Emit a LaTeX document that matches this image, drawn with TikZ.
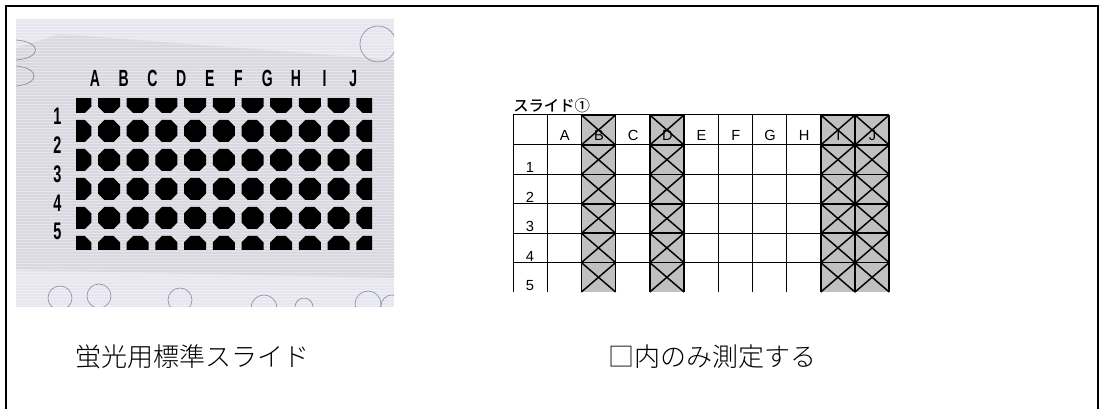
\documentclass[tikz,border=0pt]{standalone}
\usepackage{fontspec}
\setmainfont{Liberation Sans}
\newfontfamily\jpfont{Noto Sans CJK JP Medium}
\newfontfamily\jplight{Noto Sans CJK JP Light}
\definecolor{photobg}{HTML}{E6E6EF}
\definecolor{slidegray}{HTML}{D8D8E0}
\definecolor{bubble}{HTML}{8C8CA6}
\definecolor{cellgray}{HTML}{C0C0C0}
\tikzset{
  frameline/.style={line width=1.1pt},
  photolab/.style={font=\bfseries\fontsize{17.5}{18}\selectfont, xscale=0.6, inner sep=0pt},
  photonum/.style={font=\bfseries\fontsize{18}{19}\selectfont, xscale=0.6, inner sep=0pt},
  tablab/.style={font=\fontsize{11}{12}\selectfont, inner sep=0pt, anchor=base},
  gridline/.style={line width=0.75pt},
  grayedge/.style={line width=1.3pt},
  crossline/.style={line width=1.1pt},
  bubbleline/.style={draw=bubble, line width=0.5pt},
  scanline/.style={draw=white, opacity=0.35, line width=0.6pt},
  caption/.style={font=\jplight\fontsize{19.5}{21}\selectfont, inner sep=0pt, anchor=west}
}
\begin{document}
\begin{tikzpicture}[x=0.75pt,y=-0.75pt]
\useasboundingbox (0,0) rectangle (1101,409);
\fill[white] (0,0) rectangle (1101,409);
% outer frame (open at the bottom of the picture)
\draw[frameline] (6,415) -- (6,6) -- (1098,6) -- (1098,415);

% ---------- photo of the slide ----------
\begin{scope}
  \clip (16,19) rectangle (394,307);
  \fill[photobg] (16,19) rectangle (394,307);
  \fill[slidegray] (16,48) -- (60,34) -- (394,60) -- (394,278) -- (16,270) -- cycle;
  \foreach \y in {20,23,...,306} { \draw[scanline] (16,\y) -- (394,\y); }
  \draw[bubbleline] (16,40) .. controls (42,42) and (42,58) .. (16,60);
  \draw[bubbleline] (16,66) .. controls (40,68) and (40,84) .. (16,86);
  \draw[bubbleline] (378,44) circle (18);
  \draw[bubbleline] (60,298) circle (12);
  \draw[bubbleline] (99,296) circle (12);
  \draw[bubbleline] (180,300) circle (12);
  \draw[bubbleline] (264,308) circle (13);
  \draw[bubbleline] (304,307) circle (9);
  \draw[bubbleline] (368,304) circle (13);
  \draw[bubbleline] (392,306) circle (11);
\end{scope}
\begin{scope}
  \clip (76,99) rectangle (372,250);
  \foreach \i in {0,...,10} {
    \foreach \j in {0,...,5} {
      \fill[black] ({80.3+28.7*\i},{102+29*\j}) ++(11,-4.6) -- ++(0,9.2) -- ++(-6.4,6.4)
        -- ++(-9.2,0) -- ++(-6.4,-6.4) -- ++(0,-9.2) -- ++(6.4,-6.4) -- ++(9.2,0) -- cycle;
    }
  }
\end{scope}
\foreach \l [count=\k from 0] in {A,B,C,D,E,F,G,H,I,J} {
  \node[photolab] (p\l) at ({95+28.7*\k},78.5) {\l};
}
\foreach \n [count=\k from 0] in {1,...,5} {
  \node[photonum] (pn\n) at (57.5,{116.5+28.8*\k}) {\n};
}

% ---------- measurement table ----------
\node[font=\jpfont\fontsize{11.5}{12}\selectfont, inner sep=0pt, anchor=base west] (title) at (513,112) {スライド①};
% gray cells
\foreach \c in {2,4,9,10} {
  \fill[cellgray] ({513+34.2*\c},115) rectangle ({513+34.2*(\c+1)},292);
}
% grid
\foreach \c in {0,...,11} {
  \draw[gridline] ({513+34.2*\c},115) -- ({513+34.2*\c},292);
}
\foreach \y in {115,145,174.4,203.8,233.2,262.6} {
  \draw[gridline] (513,\y) -- (889.2,\y);
}
% crosses and heavy edges on the gray cells
\foreach \c in {2,4,9,10} {
  \foreach \ya/\yb in {115/145,145/174.4,174.4/203.8,203.8/233.2,233.2/262.6,262.6/292} {
    \draw[crossline] ({513+34.2*\c},\ya) -- ({513+34.2*(\c+1)},\yb);
    \draw[crossline] ({513+34.2*\c},\yb) -- ({513+34.2*(\c+1)},\ya);
  }
  \draw[grayedge] ({513+34.2*\c},115) -- ({513+34.2*\c},292);
  \draw[grayedge] ({513+34.2*(\c+1)},115) -- ({513+34.2*(\c+1)},292);
  \foreach \y in {115,145,174.4,203.8,233.2,262.6} {
    \draw[grayedge] ({513+34.2*\c},\y) -- ({513+34.2*(\c+1)},\y);
  }
}
% header letters
\foreach \l [count=\k from 1] in {A,B,C,D,E,F,G,H,I,J} {
  \node[tablab] (h\l) at ({513+34.2*\k+17.6},140.5) {\l};
}
% row numbers
\foreach \n/\y in {1/173,2/202.4,3/231.8,4/261.2,5/290.6} {
  \node[tablab] (r\n) at (530,\y) {\n};
}

% ---------- captions ----------
\node[caption] (cap1) at (75,357) {蛍光用標準スライド};
\node[caption] (cap2) at (608,357) {□内のみ測定する};
\end{tikzpicture}
\end{document}
